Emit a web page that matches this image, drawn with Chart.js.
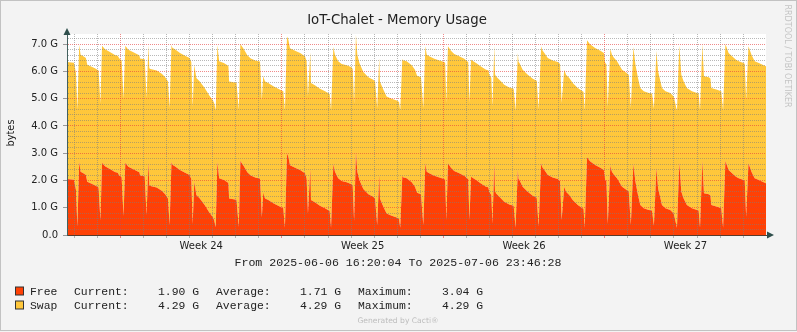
<!DOCTYPE html>
<html lang="en">
<head>
  <meta charset="UTF-8">
  <title>IoT-Chalet - Memory Usage</title>
  <style>
    html, body { margin: 0; padding: 0; background: #f3f3f3; }
    canvas { display: block; }
  </style>
</head>
<body>
  <canvas id="graf" width="797" height="332"></canvas>
  <script src="https://cdn.jsdelivr.net/npm/chart.js@4"></script>
  <script>
    // time axis: days since 2025-06-06 00:00 (graph runs 06-06 16:20:04 .. 07-06 23:46:28)
    const T_START = 0.6806, T_END = 30.9906;

    // sample times, one row per daily cycle
    const days = [
      0.68, 0.98, 1.00, 1.07, 1.13,
      1.21, 1.27, 1.39, 1.50, 1.56, 1.89, 2.05, 2.13,
      2.20, 2.33, 2.54, 2.76, 2.88, 2.95, 3.05, 3.13,
      3.21, 3.34, 3.56, 3.77, 3.82, 3.85, 4.05, 4.13,
      4.21, 4.25, 4.30, 4.57, 4.79, 4.93, 5.06, 5.13,
      5.21, 5.25, 5.36, 5.58, 5.80, 6.00, 6.07, 6.13,
      6.20, 6.29, 6.44, 6.65, 6.86, 7.00, 7.06, 7.13,
      7.20, 7.28, 7.48, 7.64, 7.68, 7.71, 8.03, 8.13,
      8.20, 8.24, 8.33, 8.50, 8.65, 8.87, 9.05, 9.13,
      9.19, 9.22, 9.27, 9.41, 9.63, 9.84, 10.06, 10.13,
      10.22, 10.28, 10.35, 10.57, 10.79, 11.00, 11.07, 11.13,
      11.23, 11.26, 11.43, 11.65, 11.87, 12.00, 12.07, 12.13,
      12.23, 12.30, 12.44, 12.59, 12.81, 13.02, 13.07, 13.13,
      13.21, 13.27, 13.36, 13.53, 13.75, 13.96, 14.04, 14.13,
      14.22, 14.25, 14.40, 14.54, 14.76, 14.98, 15.08, 15.13,
      15.22, 15.25, 15.41, 15.63, 15.77, 15.86, 16.03, 16.13,
      16.22, 16.28, 16.39, 16.61, 16.83, 17.04, 17.08, 17.13,
      17.20, 17.33, 17.47, 17.69, 17.91, 18.03, 18.08, 18.13,
      18.20, 18.42, 18.63, 18.85, 18.95, 18.99, 19.08, 19.13,
      19.21, 19.24, 19.28, 19.43, 19.64, 19.86, 20.05, 20.13,
      20.23, 20.26, 20.30, 20.44, 20.66, 20.88, 21.05, 21.13,
      21.24, 21.28, 21.38, 21.53, 21.74, 21.96, 22.06, 22.13,
      22.24, 22.32, 22.46, 22.61, 22.83, 23.04, 23.08, 23.13,
      23.23, 23.36, 23.58, 23.81, 23.96, 24.02, 24.07, 24.13,
      24.24, 24.31, 24.39, 24.53, 24.75, 24.89, 25.04, 25.13,
      25.24, 25.33, 25.44, 25.54, 25.69, 25.91, 26.05, 26.13,
      26.24, 26.31, 26.38, 26.48, 26.63, 26.84, 26.99, 27.13,
      27.23, 27.32, 27.42, 27.56, 27.78, 28.00, 28.07, 28.13,
      28.23, 28.30, 28.51, 28.58, 28.62, 28.87, 29.05, 29.13,
      29.23, 29.37, 29.52, 29.69, 29.81, 30.02, 30.07, 30.13,
      30.23, 30.36, 30.50, 30.68, 30.89, 30.99
    ];

    // Free memory (G)
    const freeG = [
      2.05, 2.03, 1.95, 1.65, 0.31,
      2.69, 2.32, 2.26, 2.20, 1.95, 1.82, 1.74, 0.53,
      2.65, 2.52, 2.42, 2.31, 2.28, 2.18, 2.12, 0.70,
      2.65, 2.50, 2.41, 2.32, 2.30, 2.18, 2.15, 0.73,
      2.67, 1.82, 1.80, 1.74, 1.62, 1.50, 1.34, 0.37,
      2.68, 2.58, 2.52, 2.38, 2.28, 2.20, 2.05, 0.40,
      1.95, 1.47, 1.34, 1.10, 0.82, 0.66, 0.55, 0.28,
      2.68, 2.08, 2.02, 1.93, 1.90, 1.34, 1.29, 0.29,
      2.72, 2.66, 2.55, 2.30, 2.18, 2.10, 2.07, 0.65,
      1.55, 1.45, 1.34, 1.28, 1.16, 1.07, 0.98, 0.27,
      2.99, 2.87, 2.56, 2.47, 2.38, 2.26, 2.08, 0.79,
      2.41, 1.28, 1.20, 1.07, 0.98, 0.92, 0.88, 0.27,
      2.60, 2.32, 2.08, 1.98, 1.93, 1.86, 1.80, 0.51,
      3.04, 2.32, 2.02, 1.69, 1.49, 1.40, 1.34, 0.37,
      2.20, 1.34, 1.04, 0.79, 0.71, 0.64, 0.59, 0.27,
      2.16, 2.12, 2.08, 1.93, 1.77, 1.55, 1.49, 0.37,
      2.63, 2.32, 2.26, 2.17, 2.11, 2.05, 2.02, 0.55,
      2.63, 2.47, 2.35, 2.26, 2.17, 2.08, 2.05, 0.55,
      2.14, 2.02, 1.89, 1.77, 1.75, 1.59, 1.47, 0.42,
      2.66, 1.60, 1.53, 1.40, 1.22, 1.12, 1.07, 0.27,
      2.38, 2.05, 2.02, 1.77, 1.59, 1.44, 1.37, 0.31,
      2.63, 2.50, 2.38, 2.20, 2.11, 2.05, 1.98, 0.55,
      1.77, 1.59, 1.47, 1.28, 1.10, 0.98, 0.95, 0.27,
      2.85, 2.70, 2.57, 2.47, 2.38, 2.02, 1.98, 0.40,
      2.54, 2.32, 2.22, 2.08, 1.77, 1.69, 1.59, 0.37,
      2.60, 1.95, 1.47, 1.10, 0.98, 0.92, 0.90, 0.34,
      2.47, 1.71, 1.47, 1.10, 0.98, 0.92, 0.79, 0.27,
      2.66, 1.59, 1.34, 1.10, 0.98, 0.92, 0.90, 0.27,
      2.71, 1.53, 1.49, 1.45, 1.10, 1.04, 0.98, 0.27,
      2.71, 2.38, 2.26, 2.14, 2.08, 2.02, 1.98, 0.67,
      2.63, 2.32, 2.08, 2.02, 1.93, 1.90
    ];

    // Swap (G), flat all month
    const swapG = [
      4.29, 4.29, 4.29, 4.29, 4.29,
      4.29, 4.29, 4.29, 4.29, 4.29, 4.29, 4.29, 4.29,
      4.29, 4.29, 4.29, 4.29, 4.29, 4.29, 4.29, 4.29,
      4.29, 4.29, 4.29, 4.29, 4.29, 4.29, 4.29, 4.29,
      4.29, 4.29, 4.29, 4.29, 4.29, 4.29, 4.29, 4.29,
      4.29, 4.29, 4.29, 4.29, 4.29, 4.29, 4.29, 4.29,
      4.29, 4.29, 4.29, 4.29, 4.29, 4.29, 4.29, 4.29,
      4.29, 4.29, 4.29, 4.29, 4.29, 4.29, 4.29, 4.29,
      4.29, 4.29, 4.29, 4.29, 4.29, 4.29, 4.29, 4.29,
      4.29, 4.29, 4.29, 4.29, 4.29, 4.29, 4.29, 4.29,
      4.29, 4.29, 4.29, 4.29, 4.29, 4.29, 4.29, 4.29,
      4.29, 4.29, 4.29, 4.29, 4.29, 4.29, 4.29, 4.29,
      4.29, 4.29, 4.29, 4.29, 4.29, 4.29, 4.29, 4.29,
      4.29, 4.29, 4.29, 4.29, 4.29, 4.29, 4.29, 4.29,
      4.29, 4.29, 4.29, 4.29, 4.29, 4.29, 4.29, 4.29,
      4.29, 4.29, 4.29, 4.29, 4.29, 4.29, 4.29, 4.29,
      4.29, 4.29, 4.29, 4.29, 4.29, 4.29, 4.29, 4.29,
      4.29, 4.29, 4.29, 4.29, 4.29, 4.29, 4.29, 4.29,
      4.29, 4.29, 4.29, 4.29, 4.29, 4.29, 4.29, 4.29,
      4.29, 4.29, 4.29, 4.29, 4.29, 4.29, 4.29, 4.29,
      4.29, 4.29, 4.29, 4.29, 4.29, 4.29, 4.29, 4.29,
      4.29, 4.29, 4.29, 4.29, 4.29, 4.29, 4.29, 4.29,
      4.29, 4.29, 4.29, 4.29, 4.29, 4.29, 4.29, 4.29,
      4.29, 4.29, 4.29, 4.29, 4.29, 4.29, 4.29, 4.29,
      4.29, 4.29, 4.29, 4.29, 4.29, 4.29, 4.29, 4.29,
      4.29, 4.29, 4.29, 4.29, 4.29, 4.29, 4.29, 4.29,
      4.29, 4.29, 4.29, 4.29, 4.29, 4.29, 4.29, 4.29,
      4.29, 4.29, 4.29, 4.29, 4.29, 4.29, 4.29, 4.29,
      4.29, 4.29, 4.29, 4.29, 4.29, 4.29, 4.29, 4.29,
      4.29, 4.29, 4.29, 4.29, 4.29, 4.29, 4.29, 4.29,
      4.29, 4.29, 4.29, 4.29, 4.29, 4.29
    ];

    // axis ticks
    const weekStarts = [3, 10, 17, 24];             // Mondays -> major grid
    const weekTicks = [6.5, 13.5, 20.5, 27.5];      // label positions
    const weekLabels = ['Week 24', 'Week 25', 'Week 26', 'Week 27'];
    const yMajor = [0, 1, 2, 3, 4, 5, 6, 7];
    const Y_MAX = 7.37;

    // legend rows
    const serieNames = ['Free', 'Swap'];
    const serieColors = ['#FF4105', '#FFC73B'];
    const curVals = ['1.90 G', '4.29 G'];
    const avgVals = ['1.71 G', '4.29 G'];
    const maxVals = ['3.04 G', '4.29 G'];

    const GRID_MINOR = 'rgba(125,125,125,0.55)';
    const GRID_MAJOR = 'rgba(230,60,60,0.6)';
    const AXIS = '#43605e';
    const MONO = '"Liberation Mono", "DejaVu Sans Mono", monospace';
    const SANS = '"DejaVu Sans", sans-serif';

    const isInt = v => Math.abs(v - Math.round(v)) < 1e-6;

    function xGridColor(c) {
      if (!c.tick) return 'transparent';
      const v = c.tick.value;
      if (!isInt(v)) return 'transparent';
      return weekStarts.includes(Math.round(v)) ? GRID_MAJOR : GRID_MINOR;
    }
    function yGridColor(c) {
      if (!c.tick) return 'transparent';
      return isInt(c.tick.value) ? GRID_MAJOR : GRID_MINOR;
    }

    const rrdDecor = {
      id: 'rrdDecor',
      beforeDraw(chart) {
        const {ctx, chartArea: a} = chart;
        ctx.save();
        ctx.fillStyle = '#f3f3f3';
        ctx.fillRect(0, 0, chart.width, chart.height);
        ctx.fillStyle = '#ffffff';
        ctx.fillRect(a.left, a.top, a.right - a.left, a.bottom - a.top);
        ctx.strokeStyle = '#c2c2c2';
        ctx.lineWidth = 1;
        ctx.strokeRect(0.5, 0.5, chart.width - 1, chart.height - 2);
        ctx.restore();
      },
      afterDraw(chart) {
        const {ctx, chartArea: a} = chart;
        ctx.save();
        // arrows
        ctx.fillStyle = '#2f4f4c';
        ctx.beginPath();
        ctx.moveTo(a.left - 3.5, a.top + 1); ctx.lineTo(a.left + 3.5, a.top + 1); ctx.lineTo(a.left, a.top - 6);
        ctx.closePath(); ctx.fill();
        ctx.beginPath();
        ctx.moveTo(a.right + 1, a.bottom - 3.5); ctx.lineTo(a.right + 1, a.bottom + 3.5); ctx.lineTo(a.right + 8, a.bottom);
        ctx.closePath(); ctx.fill();

        // title
        ctx.fillStyle = '#222';
        ctx.textAlign = 'center';
        ctx.textBaseline = 'middle';
        ctx.font = '13.3px ' + SANS;
        ctx.fillText('IoT-Chalet - Memory Usage', 397, 21);

        // y title
        ctx.save();
        ctx.translate(11, 133);
        ctx.rotate(-Math.PI / 2);
        ctx.font = '9.8px ' + SANS;
        ctx.fillStyle = '#222';
        ctx.fillText('bytes', 0, 0);
        ctx.restore();

        // rrdtool watermark
        ctx.save();
        ctx.translate(787, 56);
        ctx.rotate(Math.PI / 2);
        ctx.font = '8px ' + SANS;
        ctx.fillStyle = '#c4c4c4';
        ctx.fillText('RRDTOOL / TOBI OETIKER', 0, 0);
        ctx.restore();

        // period line
        ctx.font = '11.6px ' + MONO;
        ctx.fillStyle = '#222';
        ctx.fillText('From 2025-06-06 16:20:04 To 2025-07-06 23:46:28', 398, 263);

        // legend
        ctx.textAlign = 'left';
        ctx.font = '11.4px ' + MONO;
        serieNames.forEach((nm, i) => {
          const y = 291.5 + i * 14;
          ctx.fillStyle = serieColors[i];
          ctx.fillRect(15.5, y - 4.5, 8, 8);
          ctx.strokeStyle = '#333';
          ctx.lineWidth = 1;
          ctx.strokeRect(15.5, y - 4.5, 8, 8);
          ctx.fillStyle = '#222';
          ctx.fillText(nm, 30, y);
          ctx.fillText('Current:', 74, y);
          ctx.fillText(curVals[i], 158, y);
          ctx.fillText('Average:', 216, y);
          ctx.fillText(avgVals[i], 300, y);
          ctx.fillText('Maximum:', 358, y);
          ctx.fillText(maxVals[i], 442, y);
        });

        ctx.textAlign = 'center';
        ctx.font = '7.6px ' + SANS;
        ctx.fillStyle = '#bdbdbd';
        ctx.fillText('Generated by Cacti\u00AE', 398, 321);
        ctx.restore();
      }
    };

    Chart.defaults.font.family = SANS;
    Chart.defaults.color = '#222';

    new Chart(document.getElementById('graf'), {
      type: 'line',
      data: {
        datasets: [
          {
            label: 'Free',
            data: days.map((d, i) => ({x: d, y: freeG[i]})),
            backgroundColor: serieColors[0],
            borderColor: 'transparent',
            borderWidth: 0,
            pointRadius: 0,
            tension: 0,
            fill: 'origin'
          },
          {
            label: 'Swap',
            data: days.map((d, i) => ({x: d, y: swapG[i]})),
            backgroundColor: serieColors[1],
            borderColor: 'transparent',
            borderWidth: 0,
            pointRadius: 0,
            tension: 0,
            fill: '-1'
          }
        ]
      },
      options: {
        responsive: false,
        animation: false,
        devicePixelRatio: 1,
        events: [],
        layout: { padding: { top: 34, right: 31, left: 0, bottom: 0 } },
        plugins: { legend: { display: false }, tooltip: { enabled: false } },
        scales: {
          x: {
            type: 'linear',
            min: T_START,
            max: T_END,
            afterBuildTicks(s) {
              const t = [];
              for (let d = 1; d <= 30; d++) t.push(d);
              weekTicks.forEach(v => t.push(v));
              t.sort((p, q) => p - q);
              s.ticks = t.map(v => ({value: v}));
            },
            afterFit(s) { s.height = 97; },
            ticks: {
              autoSkip: false, maxRotation: 0, minRotation: 0, padding: 2,
              font: { size: 10 }, color: '#222',
              callback: v => { const k = weekTicks.indexOf(v); return k >= 0 ? weekLabels[k] : ''; }
            },
            grid: { z: 1, color: xGridColor, lineWidth: 1, drawTicks: true, tickLength: 3, tickColor: xGridColor },
            border: { z: 2, color: '#5b3a2a', width: 1, dash: [1, 1] }
          },
          y: {
            stacked: true,
            min: 0,
            max: Y_MAX,
            afterBuildTicks(s) {
              const t = [];
              for (let k = 0; k <= 36; k++) t.push(k / 5);
              s.ticks = t.map(v => ({value: v}));
            },
            afterFit(s) { s.width = 67; },
            ticks: {
              autoSkip: false, padding: 5, font: { size: 10 }, color: '#222',
              callback: v => {
                if (!isInt(v)) return '';
                const r = Math.round(v);
                if (!yMajor.includes(r)) return '';
                return r === 0 ? '0.0' : r.toFixed(1) + ' G';
              }
            },
            grid: {
              z: 1, color: yGridColor, lineWidth: 1, drawTicks: true, tickLength: 4,
              tickColor: c => (c.tick && isInt(c.tick.value)) ? '#999' : 'transparent'
            },
            border: { z: 2, color: AXIS, width: 1, dash: [1, 1] }
          }
        }
      },
      plugins: [rrdDecor]
    });
  </script>
</body>
</html>
